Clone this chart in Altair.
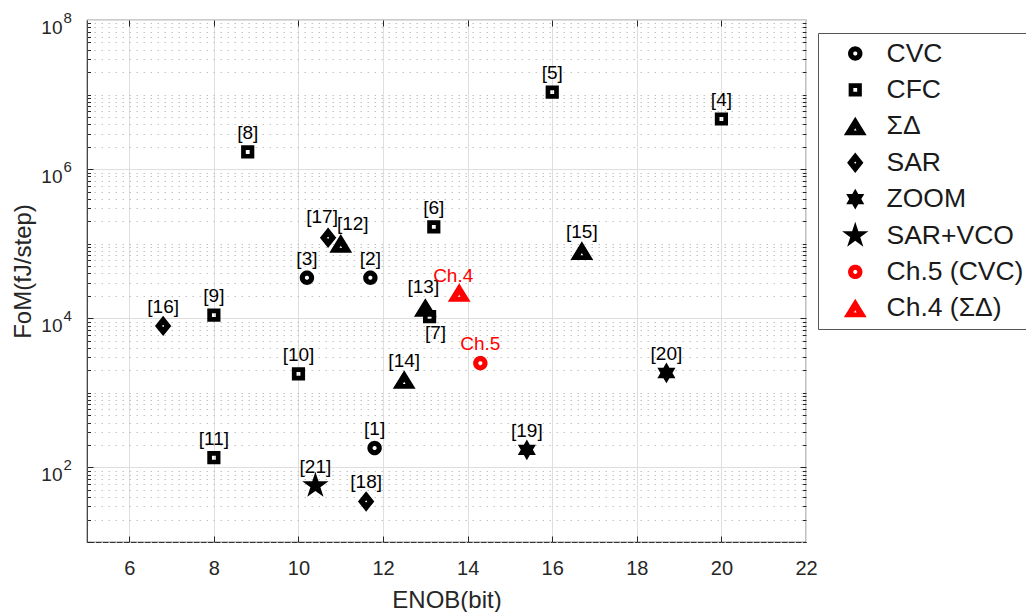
import math
import altair as alt
import pandas as pd

# ---------------- data ----------------
categories = ["CVC", "CFC", "ΣΔ", "SAR", "ZOOM", "SAR+VCO", "Ch.5 (CVC)", "Ch.4 (ΣΔ)"]
category_colors = ["#000000", "#000000", "#000000", "#000000", "#000000", "#000000", "#ff0000", "#ff0000"]

point_labels = ["[1]", "[2]", "[3]", "[4]", "[5]", "[6]", "[7]", "[8]", "[9]", "[10]", "[11]",
                "[12]", "[13]", "[14]", "[15]", "[16]", "[17]", "[18]", "[19]", "[20]", "[21]",
                "Ch.5", "Ch.4"]
point_category = ["CVC", "CVC", "CVC", "CFC", "CFC", "CFC", "CFC", "CFC", "CFC", "CFC", "CFC",
                  "ΣΔ", "ΣΔ", "ΣΔ", "ΣΔ", "SAR", "SAR", "SAR", "ZOOM", "ZOOM", "SAR+VCO",
                  "Ch.5 (CVC)", "Ch.4 (ΣΔ)"]
enob_bits = [11.8, 11.7, 10.2, 20.0, 16.0, 13.2, 13.1, 8.8, 8.0, 10.0, 8.0,
             11.0, 13.0, 12.5, 16.7, 6.8, 10.7, 11.6, 15.4, 18.7, 10.4,
             14.3, 13.8]
fom_fj_per_step = [182, 3.5e4, 3.5e4, 4.7e6, 1.08e7, 1.68e5, 1.05e4, 1.7e6, 1.1e4, 1.8e3, 135,
                   1.0e5, 1.38e4, 1.5e3, 8.0e4, 7.9e3, 1.2e5, 35, 172, 1.85e3, 57,
                   2.5e3, 2.2e4]

x_ticks = [6, 8, 10, 12, 14, 16, 18, 20, 22]
y_major_ticks = [1e2, 1e4, 1e6, 1e8]
y_minor_ticks = [m * 10 ** k for k in range(1, 8) for m in range(1, 10)
                 if not (m == 1 and k % 2 == 0)]

df = pd.DataFrame({"enob": enob_bits, "fom": fom_fj_per_step,
                   "cat": point_category, "label": point_labels})

# ---------------- marker shapes (unit paths) ----------------
def poly(pts):
    return "M" + " L".join(f"{x:.3f},{y:.3f}" for x, y in pts) + " Z"

def circle_pts(r, n=40, cx=0.0, cy=0.0):
    return [(cx + r * math.cos(2 * math.pi * i / n), cy + r * math.sin(2 * math.pi * i / n)) for i in range(n)]

def star_pts(n, R, r):
    pts = []
    for i in range(2 * n):
        a = -math.pi / 2 + i * math.pi / n
        rr = R if i % 2 == 0 else r
        pts.append((rr * math.cos(a), rr * math.sin(a)))
    return pts

ring = poly(circle_pts(0.6)) + " " + poly(circle_pts(0.17)[::-1])
square = poly([(-0.55, -0.55), (0.55, -0.55), (0.55, 0.55), (-0.55, 0.55)]) + " " + \
    poly([(-0.16, -0.16), (0.16, -0.16), (0.16, 0.16), (-0.16, 0.16)][::-1])
triangle = poly([(0, -0.8), (0.95, 0.75), (-0.95, 0.75)]) + " " + \
    poly([(0, 0.17), (-0.11, 0.36), (0.11, 0.36)])
diamond = poly([(0, -0.85), (0.68, 0), (0, 0.85), (-0.68, 0)]) + " " + \
    poly([(0, -0.09), (0.09, 0), (0, 0.09), (-0.09, 0)][::-1])
hexagram = poly(star_pts(6, 0.87, 0.87 / math.sqrt(3)))
pentagram = poly(star_pts(5, 1.15, 1.15 * 0.382))
category_shapes = [ring, square, triangle, diamond, hexagram, pentagram, ring, triangle]

# ---------------- styling ----------------
FONT = "Liberation Sans"
TXT = "#262626"
W, H = 719, 522

xs = alt.Scale(domain=[5, 22], nice=False, zero=False)
ys = alt.Scale(type="log", domain=[10, 1e8], nice=False)
cscale = alt.Scale(domain=categories, range=category_colors)
sscale = alt.Scale(domain=categories, range=category_shapes)


def guide(**kw):
    opts = dict(labels=False, ticks=False, domain=False, grid=False, title=None)
    opts.update(kw)
    return alt.Axis(**opts)


def guide_layer(xaxis, yaxis):
    return alt.Chart(df).mark_point(opacity=0).encode(
        x=alt.X("enob:Q", scale=xs, axis=xaxis),
        y=alt.Y("fom:Q", scale=ys, axis=yaxis),
    )


x_main = alt.Axis(orient="bottom", values=x_ticks, grid=True, gridColor="#dedede", gridWidth=1,
                  ticks=False, tickSize=0, domain=False, labels=True, labelFont=FONT,
                  labelFontSize=20, labelColor=TXT, labelBaseline="alphabetic", labelPadding=32,
                  labelFlush=False, labelOverlap=False, title="ENOB(bit)", titleFont=FONT,
                  titleFontSize=24, titleFontWeight="normal", titleColor=TXT, titleX=W / 2,
                  titleY=65, titleAlign="center", titleBaseline="alphabetic")
y_main = alt.Axis(orient="left", values=y_major_ticks, grid=True, gridColor="#dedede", gridWidth=1,
                  ticks=False, tickSize=0, domain=False, labels=True, labelExpr="'10'",
                  labelFont=FONT, labelFontSize=19, labelColor=TXT, labelAlign="right",
                  labelBaseline="alphabetic", labelPadding=25, labelOffset=13, labelFlush=False,
                  labelOverlap=False, title="FoM(fJ/step)", titleFont=FONT, titleFontSize=24,
                  titleFontWeight="normal", titleColor=TXT, titleAngle=270, titleX=-57,
                  titleY=251, titleAlign="center", titleBaseline="alphabetic")
y_exp = guide(orient="left", values=y_major_ticks, labels=True,
              labelExpr="'' + round(log(datum.value) / LN10)", labelFont=FONT, labelFontSize=15,
              labelColor=TXT, labelAlign="left", labelBaseline="alphabetic", labelPadding=24,
              tickSize=0, labelOffset=2, labelFlush=False, labelOverlap=False)
y_minor_grid = guide(orient="left", values=y_minor_ticks, grid=True, gridColor="#c2c2c2",
                     gridDash=[1.5, 5.5], gridWidth=1)
x_bottom_ticks = guide(orient="bottom", values=x_ticks[:-1], ticks=True, tickSize=6, offset=-6,
                       tickColor=TXT, tickWidth=1)
x_top_ticks = guide(orient="top", values=x_ticks[:-1], ticks=True, tickSize=6, offset=-6,
                    tickColor=TXT, tickWidth=1)
y_left_major = guide(orient="left", values=y_major_ticks[:-1], ticks=True, tickSize=6, offset=-6,
                     tickColor=TXT, tickWidth=1)
y_right_major = guide(orient="right", values=y_major_ticks[:-1], ticks=True, tickSize=6, offset=-6,
                      tickColor=TXT, tickWidth=1)
y_left_minor = guide(orient="left", values=y_minor_ticks, ticks=True, tickSize=3.5, offset=-3.5,
                     tickColor=TXT, tickWidth=1)
y_right_minor = guide(orient="right", values=y_minor_ticks, ticks=True, tickSize=3.5, offset=-3.5,
                      tickColor=TXT, tickWidth=1)

legend = alt.Legend(orient="none", legendX=731, legendY=13, direction="vertical",
                    fillColor="white", strokeColor="#555555", padding=7, labelFont=FONT,
                    labelFontSize=26.5, labelColor="#1a1a1a", labelOffset=18, labelLimit=400,
                    symbolOffset=17, symbolSize=576, symbolStrokeWidth=0, rowPadding=9.4,
                    clipHeight=27)

points = alt.Chart(df).mark_point(filled=True, opacity=1, size=576, strokeWidth=0).encode(
    x=alt.X("enob:Q", scale=xs, axis=x_main),
    y=alt.Y("fom:Q", scale=ys, axis=y_main),
    shape=alt.Shape("cat:N", scale=sscale, title=None, legend=legend),
    color=alt.Color("cat:N", scale=cscale, title=None, legend=legend),
)

# label nudges (pixels) for labels that are not simply centred above their marker
label_nudge = {"[7]": (6, 16), "[12]": (12, -20), "[13]": (-2, -21), "[17]": (-6, -21),
               "Ch.4": (-6, -17)}
default_nudge = (0, -19)


def label_layer(filter_expr, dx, dy):
    return alt.Chart(df).transform_filter(filter_expr).mark_text(
        dx=dx, dy=dy, font=FONT, fontSize=19, align="center", baseline="middle"
    ).encode(
        x=alt.X("enob:Q", scale=xs, axis=None),
        y=alt.Y("fom:Q", scale=ys, axis=None),
        text="label:N",
        color=alt.Color("cat:N", scale=cscale, legend=None),
    )


special = list(label_nudge.keys())
special_js = "[" + ",".join(f"'{s}'" for s in special) + "]"
text_layers = [label_layer(f"indexof({special_js}, datum.label) < 0", *default_nudge)]
for lab, (dx, dy) in label_nudge.items():
    text_layers.append(label_layer(f"datum.label == '{lab}'", dx, dy))

layers = [
    guide_layer(x_bottom_ticks, y_minor_grid),
    guide_layer(x_top_ticks, y_exp),
    guide_layer(None, y_left_major),
    guide_layer(None, y_right_major),
    guide_layer(None, y_left_minor),
    guide_layer(None, y_right_minor),
    points,
] + text_layers

chart = alt.layer(*layers).resolve_scale(
    x="shared", y="shared"
).resolve_axis(
    x="independent", y="independent"
).properties(
    width=W, height=H,
    autosize=alt.AutoSizeParams(type="none"),
    padding={"left": 79, "top": 12, "right": 220, "bottom": 70},
    background="white",
).configure_view(stroke="#333333", strokeWidth=1.2)

chart.save("out.html", embed_options={"renderer": "svg", "actions": False})
